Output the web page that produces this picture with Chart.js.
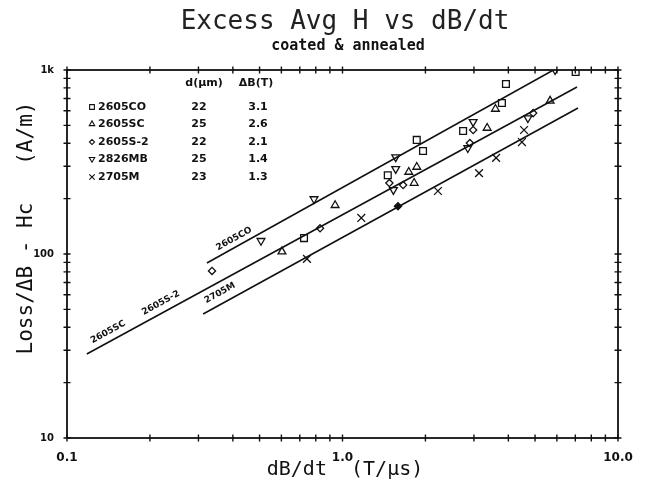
<!DOCTYPE html>
<html><head><meta charset="utf-8">
<style>html,body{margin:0;padding:0;background:#fff;}canvas{display:block;}</style>
<script src="https://cdn.jsdelivr.net/npm/chart.js@4.4.1/dist/chart.umd.min.js"></script>
</head><body>
<canvas id="c" width="645" height="491"></canvas>
<script>
// ---- tick labels ----
const xTickValues = [0.1, 1, 10];
const xTickText = ['0.1', '1.0', '10.0'];
const yTickValues = [10, 100, 1000];
const yTickText = ['10', '100', '1k'];

// ---- legend table ----
const seriesNames = ['2605CO', '2605SC', '2605S-2', '2826MB', '2705M'];
const thicknessUm = ['22', '25', '22', '25', '23'];
const deltaBT = ['3.1', '2.6', '2.1', '1.4', '1.3'];

// ---- measured points ----
const coX = [7.02, 3.92, 3.79, 2.74, 1.86, 1.96, 1.46, 0.725];
const coY = [975, 839, 662, 466, 417, 363, 268, 122];
const scX = [3.59, 3.35, 5.67, 1.74, 1.86, 1.82, 0.94, 0.603];
const scY = [614, 484, 680, 279, 297, 243, 184, 103];
const s2X = [0.336, 0.829, 1.48, 1.66, 2.90, 2.98, 4.92, 1.59];
const s2Y = [80.9, 138, 243, 237, 401, 472, 583, 182];
const mbX = [5.91, 2.98, 2.85, 1.56, 1.56, 1.53, 0.788, 0.506, 4.71];
const mbY = [1000, 522, 377, 336, 290, 223, 199, 118, 548];
const mX = [4.56, 4.48, 3.61, 3.13, 2.22, 1.17, 0.743];
const mY = [472, 406, 333, 275, 220, 157, 94];

// ---- fitted lines ----
const fitCOX = [0.322, 5.83];
const fitCOY = [89.3, 1000];
const fitSCX = [0.118, 7.10];
const fitSCY = [28.6, 809];
const fitMX = [0.312, 7.16];
const fitMY = [47.2, 621];

// ---- line labels ----
const lineLabelText = ['2605CO', '2605SC', '2605S-2', '2705M'];
const lineLabelX = [0.404, 0.141, 0.219, 0.359];
const lineLabelY = [121, 37.7, 54.2, 61.4];
const lineLabelFit = [0, 1, 1, 2];

const pts = (xs, ys) => xs.map((v, i) => ({x: v, y: ys[i]}));

const markerStyles = [
  {pointStyle: 'rect', rotation: 0, radius: 4.8},
  {pointStyle: 'triangle', rotation: 0, radius: 4.5},
  {pointStyle: 'rectRot', rotation: 0, radius: 3.6},
  {pointStyle: 'triangle', rotation: 180, radius: 4.5},
  {pointStyle: 'crossRot', rotation: 0, radius: 5.5}
];
const seriesData = [pts(coX, coY), pts(scX, scY), pts(s2X, s2Y), pts(mbX, mbY), pts(mX, mY)];
const fits = [pts(fitCOX, fitCOY), pts(fitSCX, fitSCY), pts(fitMX, fitMY)];

const datasets = [];
fits.forEach(f => datasets.push({
  type: 'line', data: f, borderColor: '#111', borderWidth: 1.6,
  pointRadius: 0, fill: false, showLine: true
}));
seriesData.forEach((d, i) => datasets.push({
  type: 'scatter', label: seriesNames[i], data: d,
  pointStyle: markerStyles[i].pointStyle, rotation: markerStyles[i].rotation,
  pointRadius: markerStyles[i].radius, borderColor: '#111',
  backgroundColor: i === 2 ? d.map((p, k) => k === d.length - 1 ? '#111' : 'rgba(0,0,0,0)') : 'rgba(0,0,0,0)',
  borderWidth: 1.3
}));

const deco = {
  id: 'deco',
  afterDraw(chart) {
    const {ctx, chartArea: a, scales: {x, y}} = chart;
    ctx.save();
    ctx.strokeStyle = '#111';
    ctx.lineWidth = 1.8;
    ctx.strokeRect(a.left, a.top, a.right - a.left, a.bottom - a.top);
    ctx.lineWidth = 1.4;
    const tl = 3.5;
    const xv = [], yv = [];
    for (let d = -1; d < 1; d++) for (let m = 1; m < 10; m++) xv.push(m * Math.pow(10, d));
    xv.push(10);
    for (let d = 1; d < 3; d++) for (let m = 1; m < 10; m++) yv.push(m * Math.pow(10, d));
    yv.push(1000);
    ctx.beginPath();
    xv.forEach(v => {
      const px = x.getPixelForValue(v);
      ctx.moveTo(px, a.bottom - tl); ctx.lineTo(px, a.bottom + tl);
      ctx.moveTo(px, a.top - tl); ctx.lineTo(px, a.top + tl);
    });
    yv.forEach(v => {
      const py = y.getPixelForValue(v);
      ctx.moveTo(a.left - tl, py); ctx.lineTo(a.left + tl, py);
      ctx.moveTo(a.right - tl, py); ctx.lineTo(a.right + tl, py);
    });
    ctx.stroke();

    // titles
    ctx.fillStyle = '#222';
    ctx.textAlign = 'center';
    ctx.textBaseline = 'middle';
    ctx.font = '26px "DejaVu Sans Mono"';
    ctx.fillText('Excess Avg H vs dB/dt', 345, 22);
    ctx.fillStyle = '#111';
    ctx.font = 'bold 15px "DejaVu Sans Mono"';
    ctx.fillText('coated & annealed', 348, 46);
    ctx.font = '20px "DejaVu Sans Mono"';
    ctx.fillText('dB/dt  (T/\u00b5s)', 345, 470);
    ctx.save();
    ctx.translate(27, 228);
    ctx.rotate(-Math.PI / 2);
    ctx.font = '21px "DejaVu Sans Mono"';
    ctx.fillText('Loss/\u0394B - Hc   (A/m)', 0, 0);
    ctx.restore();

    // legend table
    ctx.font = 'bold 11px "DejaVu Sans"';
    ctx.fillText('d(\u00b5m)', 204, 83);
    ctx.fillText('\u0394B(T)', 256, 83);
    const rowY = [107, 124, 142, 159, 177];
    seriesNames.forEach((n, i) => {
      ctx.lineWidth = 1.1;
      ctx.fillStyle = 'rgba(0,0,0,0)';
      Chart.helpers.drawPoint(ctx, {
        pointStyle: markerStyles[i].pointStyle, rotation: markerStyles[i].rotation,
        radius: markerStyles[i].radius * 0.7, borderWidth: 1.1
      }, 92, rowY[i]);
      ctx.fillStyle = '#111';
      ctx.textAlign = 'left';
      ctx.fillText(n, 98, rowY[i]);
      ctx.textAlign = 'center';
      ctx.fillText(thicknessUm[i], 199, rowY[i]);
      ctx.fillText(deltaBT[i], 258, rowY[i]);
    });

    // line labels
    ctx.font = 'bold 9px "DejaVu Sans"';
    lineLabelText.forEach((t, i) => {
      const f = fits[lineLabelFit[i]];
      const x0 = x.getPixelForValue(f[0].x), y0 = y.getPixelForValue(f[0].y);
      const x1 = x.getPixelForValue(f[1].x), y1 = y.getPixelForValue(f[1].y);
      const ang = Math.atan2(y1 - y0, x1 - x0);
      ctx.save();
      ctx.translate(x.getPixelForValue(lineLabelX[i]), y.getPixelForValue(lineLabelY[i]));
      ctx.rotate(ang);
      ctx.fillText(t, 0, 0);
      ctx.restore();
    });
    ctx.restore();
  }
};

new Chart(document.getElementById('c'), {
  type: 'scatter',
  data: {datasets},
  options: {
    responsive: false,
    animation: false,
    devicePixelRatio: 1,
    layout: {padding: {left: 0, right: 27, top: 70, bottom: 0}},
    plugins: {legend: {display: false}, tooltip: {enabled: false}},
    elements: {line: {tension: 0}},
    scales: {
      x: {
        type: 'logarithmic', min: 0.1, max: 10,
        grid: {display: false}, border: {display: false},
        afterBuildTicks: s => { s.ticks = xTickValues.map(v => ({value: v})); },
        afterFit: s => { s.height = 53; },
        ticks: {
          autoSkip: false, maxRotation: 0, padding: 5, color: '#111',
          font: {family: 'DejaVu Sans', weight: 'bold', size: 12},
          callback: (v) => { const i = xTickValues.findIndex(t => Math.abs(t - v) < 1e-9); return i >= 0 ? xTickText[i] : ''; }
        }
      },
      y: {
        type: 'logarithmic', min: 10, max: 1000,
        grid: {display: false}, border: {display: false},
        afterBuildTicks: s => { s.ticks = yTickValues.map(v => ({value: v})); },
        afterFit: s => { s.width = 67; },
        ticks: {
          autoSkip: false, padding: 5, color: '#111',
          font: {family: 'DejaVu Sans', weight: 'bold', size: 10},
          callback: (v) => { const i = yTickValues.findIndex(t => Math.abs(t - v) < 1e-9); return i >= 0 ? yTickText[i] : ''; }
        }
      }
    }
  },
  plugins: [deco]
});
</script>
</body></html>
